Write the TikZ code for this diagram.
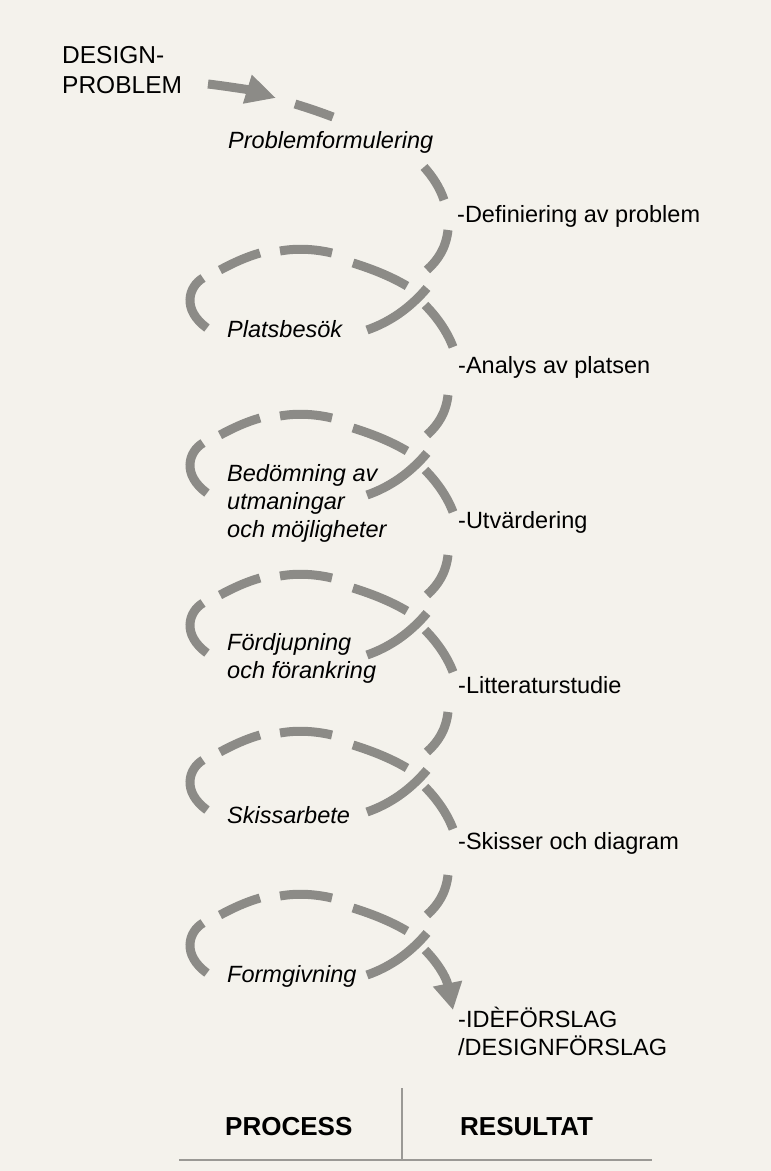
\documentclass[tikz,border=0pt]{standalone}
\usepackage{fontspec}
\setmainfont{Liberation Sans}
\usetikzlibrary{arrows.meta}
\definecolor{bgcol}{HTML}{F4F2EC}
\definecolor{strokecol}{HTML}{8C8B87}
\definecolor{rulecol}{HTML}{9A9995}
\tikzset{
  brush/.style={draw=strokecol, line width=9pt, line cap=butt},
  lbl/.style={anchor=base west, inner sep=0pt, font=\fontsize{23.5}{28}\selectfont, align=left},
  proc/.style={lbl, font=\fontsize{23.5}{28}\selectfont\itshape},
  head/.style={anchor=base west, inner sep=0pt, font=\fontsize{26}{30}\selectfont\bfseries},
}
\newcommand\helixloop[1]{%
  \begin{scope}[shift={(0,#1)}]
    \draw[brush] (448,230) .. controls (446,248) and (438,260) .. (427,270);
    \draw[brush] (427,288) .. controls (410,308) and (390,322) .. (367,330);
    \draw[brush] (203,278) .. controls (188,287) and (182,310) .. (207,328);
    \draw[brush] (220,270) .. controls (233,263) and (246,257) .. (260,253);
    \draw[brush] (280,251) .. controls (297,248) and (315,249) .. (332,253);
    \draw[brush] (353,263) .. controls (372,269) and (390,276) .. (407,286);
  \end{scope}}
\newcommand\helixexit[1]{%
  \begin{scope}[shift={(0,#1)}]
    \draw[brush] (425,305) .. controls (436,316) and (447,331) .. (453,347);
  \end{scope}}
\begin{document}
\begin{tikzpicture}[x=1pt, y=-1pt]
  \fill[bgcol] (0,0) rectangle (771,1171);
  \useasboundingbox (0,0) rectangle (771,1171);

  % entry
  \draw[brush, -{Triangle[length=30pt, width=28pt]}] (208,84) .. controls (225,86) and (250,90) .. (276,98);
  \draw[brush] (295,104) .. controls (308,108) and (320,112) .. (333,117);
  \draw[brush] (424,167) .. controls (433,177) and (440,188) .. (444,200);

  % loops
  \helixloop{0}
  \helixexit{0}
  \helixloop{165}
  \helixexit{165}
  \helixloop{325}
  \helixexit{325}
  \helixloop{482}
  \helixexit{482}
  \helixloop{645}
  \draw[brush, -{Triangle[length=27pt, width=28pt]}] (425,950) .. controls (436,961) and (446,976) .. (453,1010);

  % texts (multi-line nodes: base = last line)
  \node[lbl, font=\fontsize{24.5}{30}\selectfont] (dp) at (62,93) {DESIGN-\\PROBLEM};
  \node[proc] (p0) at (228,148) {Problemformulering};
  \node[proc] (p1) at (227,337) {Platsbesök};
  \node[proc] (p2) at (227,537) {Bedömning av\\utmaningar\\och möjligheter};
  \node[proc] (p3) at (227,678) {Fördjupning\\och förankring};
  \node[proc] (p4) at (227,823) {Skissarbete};
  \node[proc] (p5) at (227,982) {Formgivning};

  \node[lbl] (r0) at (457,222) {-Definiering av problem};
  \node[lbl] (r1) at (458,373) {-Analys av platsen};
  \node[lbl] (r2) at (458,528) {-Utvärdering};
  \node[lbl] (r3) at (458,693) {-Litteraturstudie};
  \node[lbl] (r4) at (458,849) {-Skisser och diagram};
  \node[lbl] (r5) at (458,1055) {-IDÈFÖRSLAG\\/DESIGNFÖRSLAG};

  % footer
  \coordinate (vt) at (402,1088);
  \coordinate (vb) at (402,1160);
  \coordinate (hl) at (179,1160);
  \coordinate (hr) at (652,1160);
  \draw[rulecol, line width=2pt] (vt) -- (vb);
  \draw[rulecol, line width=2pt] (hl) -- (hr);
  \node[head] (h1) at (225,1135) {PROCESS};
  \node[head] (h2) at (460,1135) {RESULTAT};
\end{tikzpicture}
\end{document}
